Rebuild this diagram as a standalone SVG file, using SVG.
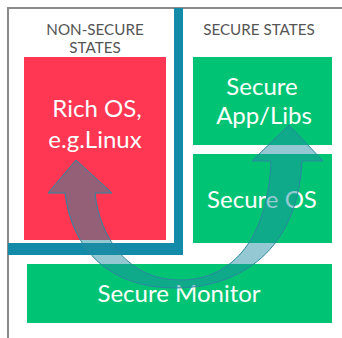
<svg xmlns="http://www.w3.org/2000/svg" width="342" height="338" viewBox="0 0 342 338">
<style>
.lbl{font-family:Lato,"Open Sans","DejaVu Sans",sans-serif;fill:#fff;font-size:24px;text-anchor:middle}
.hdr{font-family:Lato,"Open Sans","DejaVu Sans",sans-serif;fill:#555;font-size:15.2px;text-anchor:middle}
.green{fill:#00C473}
</style>
<rect width="342" height="338" fill="#fff"/>
<g id="frame">
<path d="M8,338 V8 H342" fill="none" stroke="#8a8a8a" stroke-width="2"/>
</g>
<g id="divider">
<path d="M174,8 H183 V255 H8 V243 H174 Z" fill="#138BA8"/>
</g>
<g id="hdr-nonsecure">
<text class="hdr" x="95" y="35">NON-SECURE</text>
<text class="hdr" x="95" y="53">STATES</text>
</g>
<g id="hdr-secure">
<text class="hdr" x="259" y="35">SECURE STATES</text>
</g>
<g id="rich-os">
<rect x="24" y="57" width="142" height="183" fill="#FF3752"/>
<text class="lbl" x="97" y="117">Rich OS,</text>
<text class="lbl" x="95" y="148">e.g.Linux</text>
</g>
<g id="secure-app">
<rect class="green" x="193" y="57" width="139" height="88"/>
<text class="lbl" x="262" y="95">Secure</text>
<text class="lbl" x="264" y="124">App/Libs</text>
</g>
<g id="secure-os">
<rect class="green" x="193" y="154" width="139" height="89"/>
<text class="lbl" x="262" y="208">Secure OS</text>
</g>
<g id="secure-monitor">
<rect class="green" x="27" y="264" width="305" height="59"/>
<text class="lbl" x="179" y="302">Secure Monitor</text>
</g>
<g id="connectors">
<path d="M65,193 L48,193 L76,160 L112,193 L95,193 C100,240 130,280 180,280 C235,280 268,235 271,161 L252,161 L289,125 L323,161 L302,161 C298,250 240,288 175,288 C110,288 72,250 65,193 Z" fill="#208EA2" fill-opacity="0.48" stroke="#2A87A0" stroke-width="1"/>
</g>
</svg>
